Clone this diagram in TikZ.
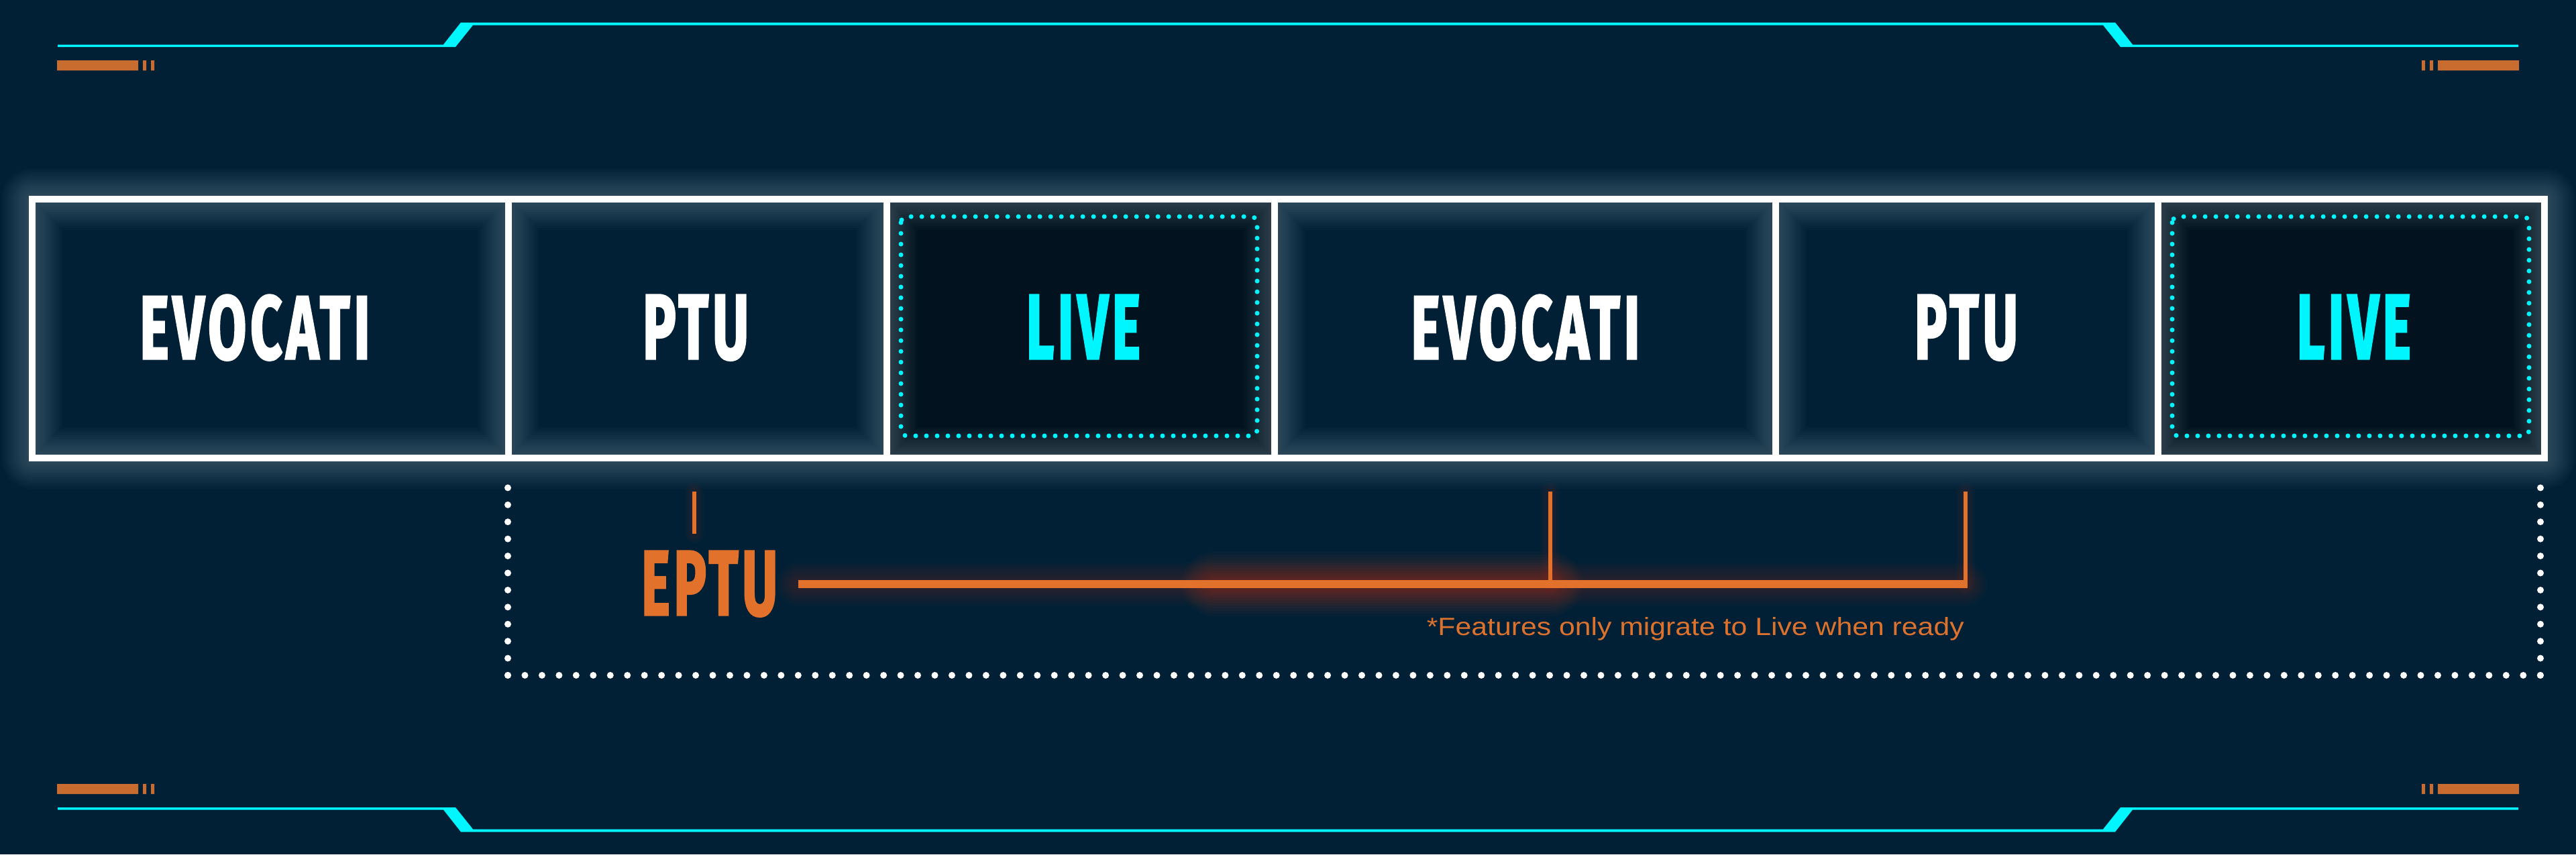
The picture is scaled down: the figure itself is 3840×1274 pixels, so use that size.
\documentclass[tikz,border=0pt]{standalone}
\usepackage{fontspec}
\usepackage{graphicx}
\newfontfamily\lblfont{Fira Sans}[LetterSpace=7,BoldFeatures={FakeBold=2.5}]
\newfontfamily\ftfont{Liberation Sans}
\definecolor{bg}{HTML}{012035}
\definecolor{livefill}{HTML}{02121F}
\definecolor{cyanc}{HTML}{00F6FF}
\definecolor{orangebar}{HTML}{C96C30}
\definecolor{orangeline}{HTML}{E2712B}
\definecolor{orangetext}{HTML}{DC722E}
\definecolor{glowc}{HTML}{A8BCCB}
\definecolor{redglow}{HTML}{D8401C}
\newcommand{\biglbl}[2]{\resizebox{#1}{95pt}{\lblfont\bfseries #2}}
\tikzset{
  cell/.style={rectangle, inner sep=0pt, outer sep=0pt, minimum height=386pt},
  livecell/.style={cell, fill=livefill},
  boxline/.style={draw=white, line width=10pt},
  glowline/.style={draw=glowc, opacity=0.024, line join=round, line cap=round},
  lbl/.style={inner sep=0pt, anchor=base, text=white},
  livelbl/.style={lbl, text=cyanc},
  cyandots/.style={draw=cyanc, line width=7pt, line cap=round, dash pattern=on 0pt off 16pt, rounded corners=9pt},
  whitedots/.style={draw=white, line width=10pt, line cap=round, dash pattern=on 0pt off 25.42pt},
  oline/.style={draw=orangeline},
  oglow/.style={draw=redglow, line cap=round},
  framefill/.style={fill=cyanc},
  barfill/.style={fill=orangebar},
}
\begin{document}
\begin{tikzpicture}[x=1pt,y=-1pt]
\fill[bg] (0,0) rectangle (3840,1274);
\useasboundingbox (0,0) rectangle (3840,1274);

% frame top and bottom
\fill[framefill] (86,66.5) -- (661,66.5) -- (687,33.5) -- (3153,33.5) -- (3179,66.5) -- (3754,66.5) -- (3754,70) -- (3161,70) -- (3135,37.5) -- (705,37.5) -- (679,70) -- (86,70) -- cycle;
\fill[framefill] (86,1207.5) -- (661,1207.5) -- (687,1240.5) -- (3153,1240.5) -- (3179,1207.5) -- (3754,1207.5) -- (3754,1204) -- (3161,1204) -- (3135,1236.5) -- (705,1236.5) -- (679,1204) -- (86,1204) -- cycle;

% orange bars
\fill[barfill] (85,90) rectangle (206,105) (213,90) rectangle (218,105) (225,90) rectangle (230,105);
\fill[barfill] (3634,90) rectangle (3755,105) (3622,90) rectangle (3627,105) (3610,90) rectangle (3615,105);
\fill[barfill] (85,1169) rectangle (206,1184) (213,1169) rectangle (218,1184) (225,1169) rectangle (230,1184);
\fill[barfill] (3634,1169) rectangle (3755,1184) (3622,1169) rectangle (3627,1184) (3610,1169) rectangle (3615,1184);

% cells
\node[cell, minimum width=709.5pt] (c1) at (402.75,490) {};
\node[cell, minimum width=564.5pt] (c2) at (1039.75,490) {};
\node[livecell, minimum width=578pt] (c3) at (1611,490) {};
\node[cell, minimum width=746.5pt] (c4) at (2273.25,490) {};
\node[cell, minimum width=570.5pt] (c5) at (2931.75,490) {};
\node[livecell, minimum width=576pt] (c6) at (3505,490) {};

% glow
\foreach \w in {14,20,...,92}
  \draw[glowline, line width=\w pt] (c1.north west) rectangle (c6.south east)
    (c1.north east) -- (c1.south east) (c2.north east) -- (c2.south east)
    (c3.north east) -- (c3.south east) (c4.north east) -- (c4.south east)
    (c5.north east) -- (c5.south east);

% white borders
\draw[boxline] (c1.north west) rectangle (c6.south east);
\draw[boxline] (c1.north east) -- (c1.south east);
\draw[boxline] (c2.north east) -- (c2.south east);
\draw[boxline] (c3.north east) -- (c3.south east);
\draw[boxline] (c4.north east) -- (c4.south east);
\draw[boxline] (c5.north east) -- (c5.south east);

% cyan dotted frames
\draw[cyandots] (1343,323) rectangle (1874,650);
\draw[cyandots] (3238,323) rectangle (3770,650);

% labels
\node[lbl] (t1) at (380,535) {\biglbl{343pt}{EVOCATI}};
\node[lbl] (t2) at (1037,535) {\biglbl{158pt}{PTU}};
\node[livelbl] (t3) at (1615,535) {\biglbl{170pt}{LIVE}};
\node[lbl] (t4) at (2274,535) {\biglbl{341pt}{EVOCATI}};
\node[lbl] (t5) at (2931,535) {\biglbl{154pt}{PTU}};
\node[livelbl] (t6) at (3509,535) {\biglbl{170pt}{LIVE}};

% white dotted loop
\coordinate (la) at (757,702);
\coordinate (lb) at (757,1007);
\coordinate (lc) at (3787,1007);
\coordinate (ld) at (3787,702);
\draw[whitedots] (lb) -- (la);
\draw[whitedots, dash pattern=on 0pt off 25.46pt] (lb) -- (lc);
\draw[whitedots] (lc) -- (ld);

% EPTU bracket
\coordinate (bStart) at (1190,871);
\coordinate (bMid) at (2311,871);
\coordinate (bEnd) at (2930,871);
\coordinate (bEndOut) at (2933,871);
\coordinate (bMidTop) at (2311,733);
\coordinate (bEndTop) at (2930,733);
\coordinate (tickTop) at (1035,733);
\coordinate (tickBot) at (1035,796);
\coordinate (gA) at (1810,871);

\foreach \w in {16,22,...,64}
  \draw[oglow, opacity=0.025, line width=\w pt] (bStart) -- (bEnd);
\foreach \w in {16,24,...,100}
  \draw[oglow, opacity=0.035, line width=\w pt] (gA) -- (bMid);
\foreach \w in {10,16,22,28}
  \draw[oglow, opacity=0.03, line width=\w pt] (bMid) -- (bMidTop) (bEnd) -- (bEndTop) (tickTop) -- (tickBot);

\draw[oline, line width=12pt] (bStart) -- (bEndOut);
\draw[oline, line width=6pt] (bMid) -- (bMidTop);
\draw[oline, line width=6pt] (bEnd) -- (bEndTop);
\draw[oline, line width=6pt] (tickTop) -- (tickBot);

\node[inner sep=0pt, anchor=base, text=orangeline] (eptu) at (1057.5,917) {\biglbl{203pt}{EPTU}};

\node[inner sep=0pt, anchor=base east, text=orangetext] (note) at (2928,947)
  {\resizebox{801pt}{27pt}{\ftfont *Features only migrate to Live when ready}};
\end{tikzpicture}
\end{document}
